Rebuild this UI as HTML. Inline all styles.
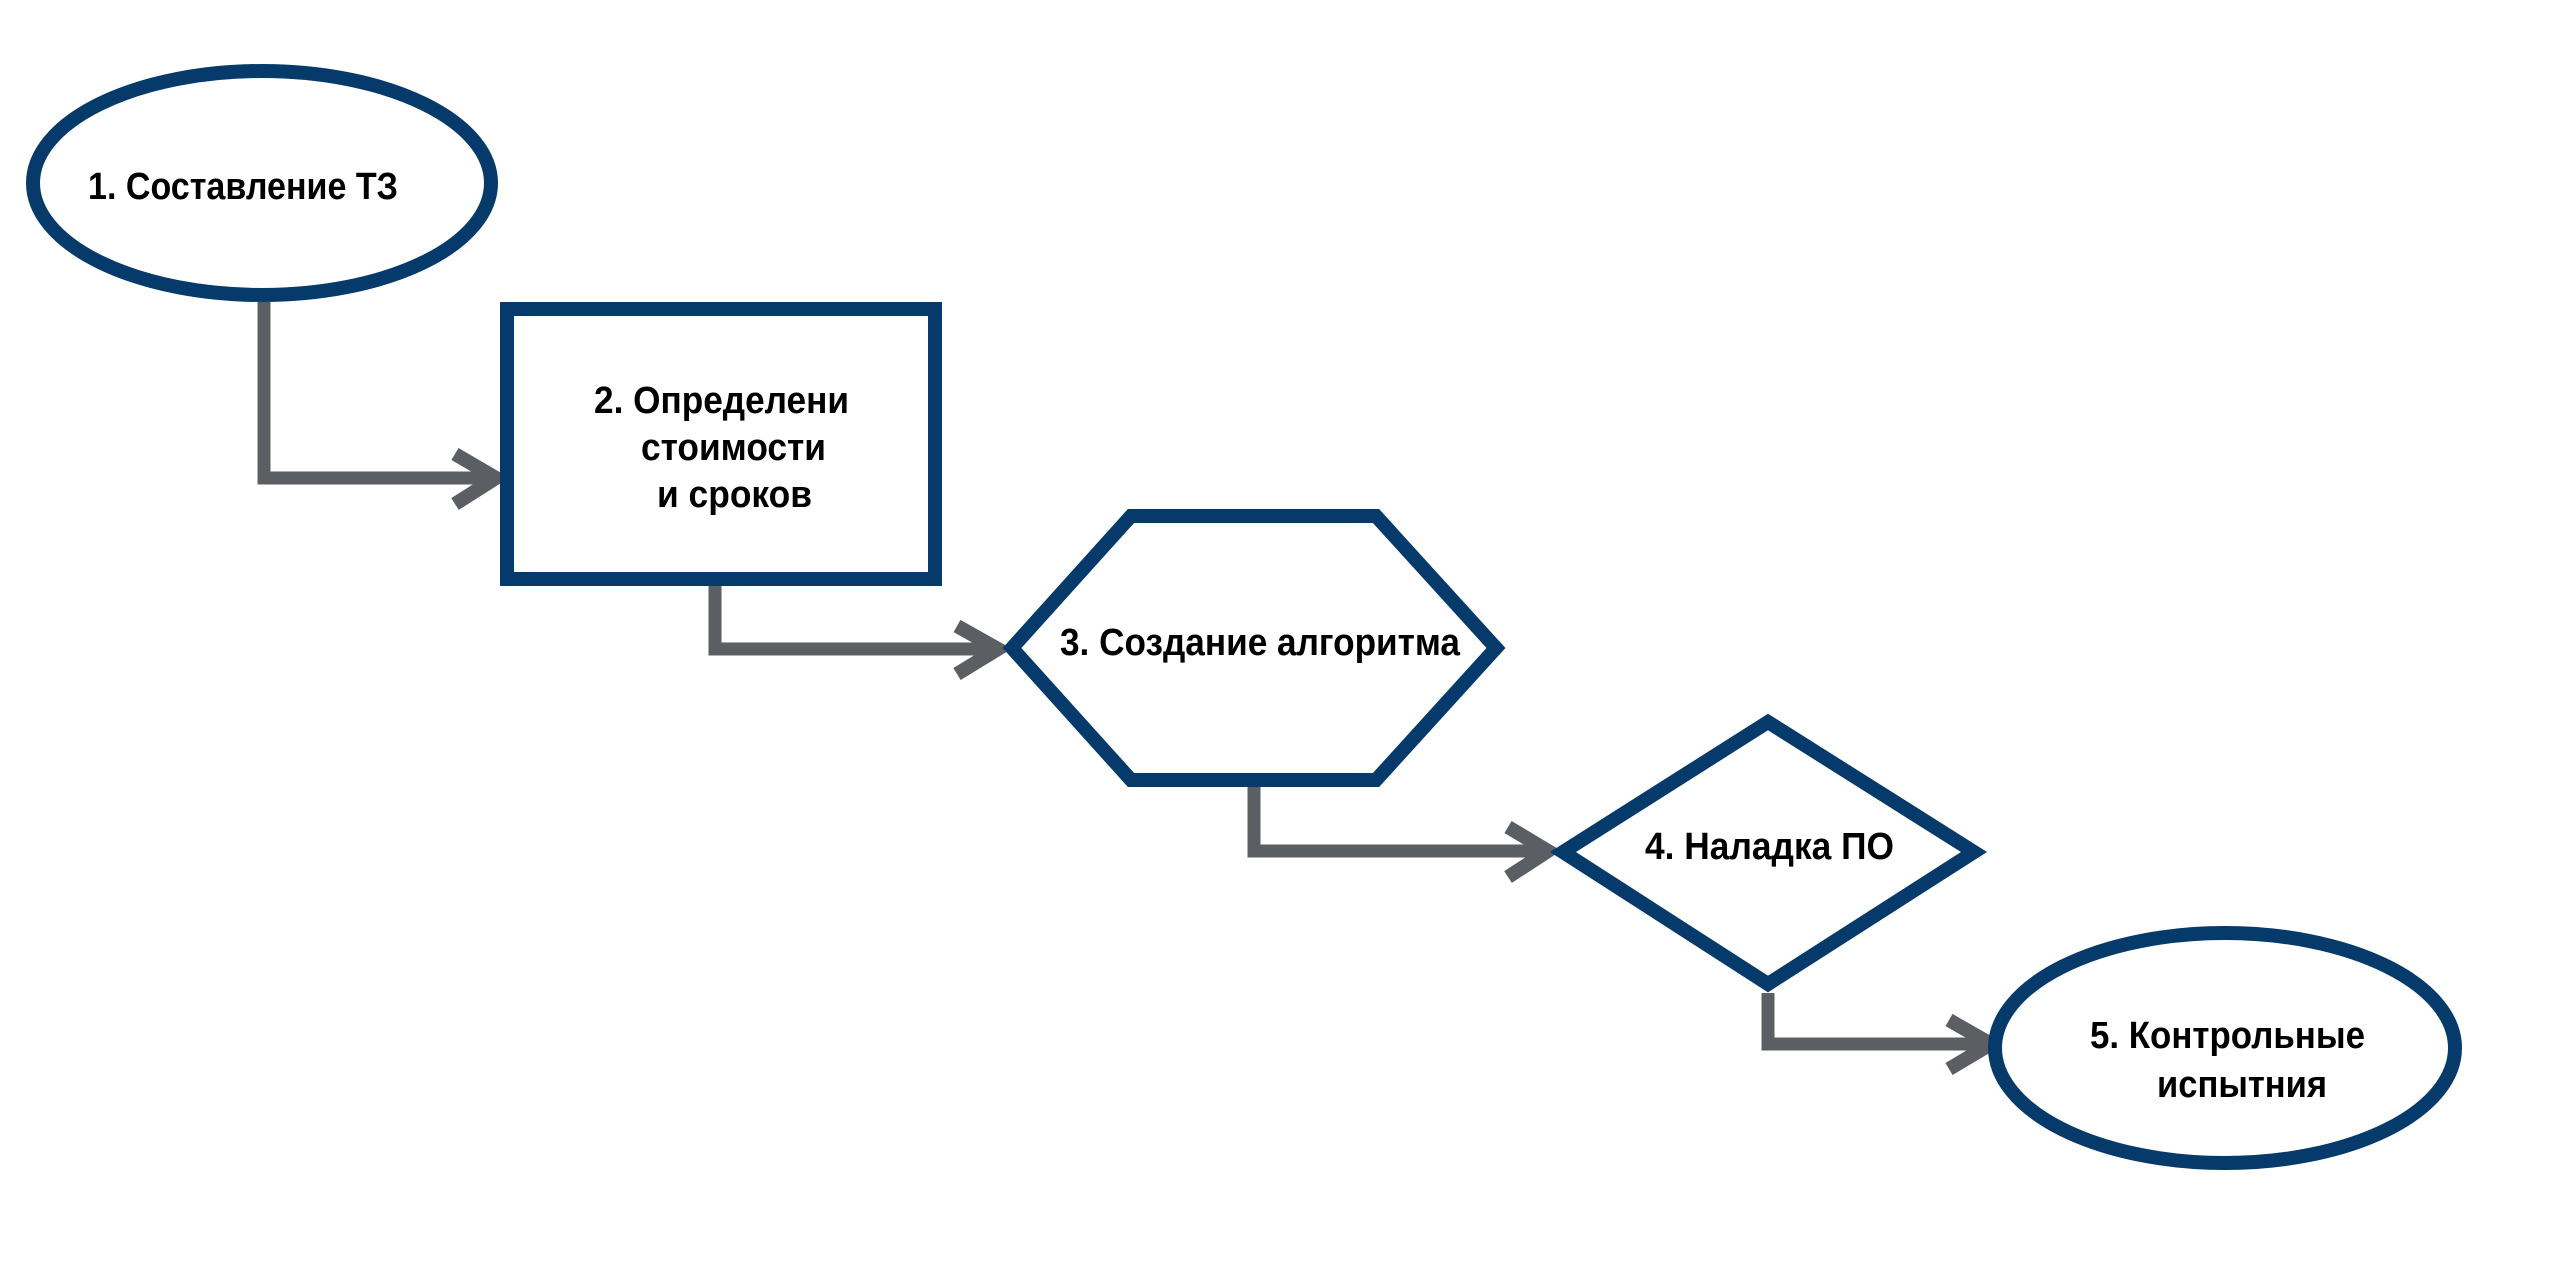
<!DOCTYPE html>
<html><head><meta charset="utf-8"><style>html,body{margin:0;padding:0;background:#fff}svg{display:block}</style></head>
<body>
<svg width="2560" height="1280" viewBox="0 0 2560 1280" xmlns="http://www.w3.org/2000/svg">
<g fill="none" stroke="#5b5e62" stroke-width="13">
<polyline points="264,302 264,478 496,478"/>
<polyline points="455,454 496,478 455,504" stroke-width="14"/>
<polyline points="715,586 715,649 998,649"/>
<polyline points="957,626 998,649 957,674" stroke-width="14"/>
<polyline points="1254,787 1254,851 1548,851"/>
<polyline points="1508,827 1548,851 1508,877" stroke-width="14"/>
<polyline points="1768,993 1768,1044 1991,1044"/>
<polyline points="1949,1020 1991,1044 1949,1069" stroke-width="14"/>
</g>
<g fill="#fff" stroke="#053a6b" stroke-width="14">
<ellipse cx="262" cy="183" rx="229" ry="112"/>
<rect x="507" y="309" width="428" height="270"/>
<polygon points="1012,648 1131,516 1376,516 1496,648 1376,780 1131,780"/>
<polygon points="1563,852 1768,722 1974,852 1768,984"/>
<ellipse cx="2225" cy="1048" rx="230" ry="115"/>
</g>
<g font-family="'Liberation Sans','Noto Sans CJK SC',sans-serif" font-weight="bold" font-size="38" fill="#000">
<text x="88" y="199" textLength="310" lengthAdjust="spacingAndGlyphs">1. Составление ТЗ</text>
<text x="594" y="413" textLength="255" lengthAdjust="spacingAndGlyphs">2. Определени</text>
<text x="641" y="460" textLength="185" lengthAdjust="spacingAndGlyphs">стоимости</text>
<text x="657" y="507" textLength="155" lengthAdjust="spacingAndGlyphs">и сроков</text>
<text x="1060" y="655" textLength="400" lengthAdjust="spacingAndGlyphs">3. Создание алгоритма</text>
<text x="1645" y="859" textLength="249" lengthAdjust="spacingAndGlyphs">4. Наладка ПО</text>
<text x="2090" y="1048" textLength="275" lengthAdjust="spacingAndGlyphs">5. Контрольные</text>
<text x="2157" y="1097" textLength="170" lengthAdjust="spacingAndGlyphs">испытния</text>
</g>
</svg>
</body></html>
